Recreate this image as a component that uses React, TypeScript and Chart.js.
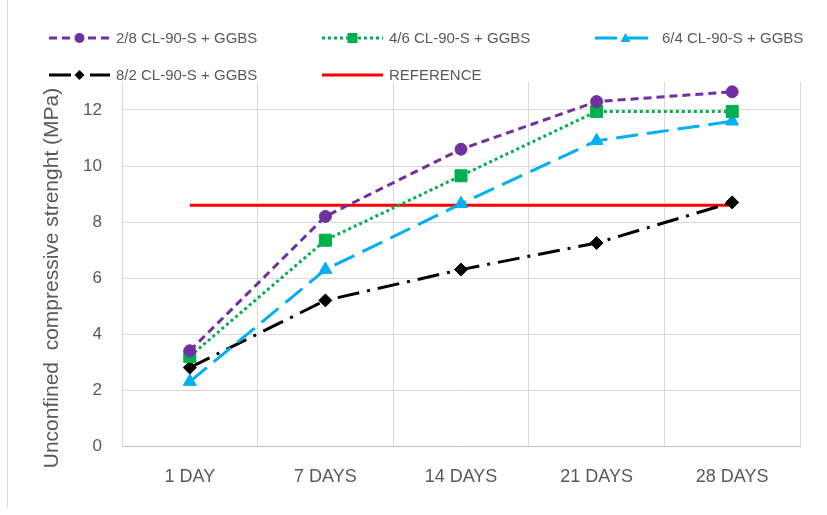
import { useEffect, useRef } from 'react';
import { Chart, registerables } from 'chart.js';

Chart.register(...registerables);

const categories = ['1 DAY', '7 DAYS', '14 DAYS', '21 DAYS', '28 DAYS'];
const mix28 = [3.4, 8.2, 10.6, 12.3, 12.65];
const mix46 = [3.2, 7.35, 9.65, 11.95, 11.95];
const mix64 = [2.3, 6.3, 8.65, 10.9, 11.6];
const mix82 = [2.8, 5.2, 6.3, 7.25, 8.7];
const reference = [8.6, 8.6, 8.6, 8.6, 8.6];
const seriesLabels = [
  '2/8 CL-90-S + GGBS',
  '4/6 CL-90-S + GGBS',
  '6/4 CL-90-S + GGBS',
  '8/2 CL-90-S + GGBS',
  'REFERENCE',
];
const yTitle = 'Unconfined  compressive strenght (MPa)';
const yTickValues = [0, 2, 4, 6, 8, 10, 12];
const yMax = 13;

const FONT = '"Liberation Sans", Arial, sans-serif';
const TEXT = '#595959';
const GRID = '#D9D9D9';

const legendSlots = [
  { x: 49, y: 38 },
  { x: 322, y: 38 },
  { x: 595, y: 38 },
  { x: 49, y: 75 },
  { x: 322, y: 75 },
];

function drawMarker(ctx: CanvasRenderingContext2D, style: string, x: number, y: number, r: number, color: string) {
  ctx.save();
  ctx.fillStyle = color;
  ctx.strokeStyle = color;
  ctx.setLineDash([]);
  ctx.beginPath();
  if (style === 'circle') {
    ctx.arc(x, y, r, 0, Math.PI * 2);
  } else if (style === 'rect') {
    ctx.rect(x - r, y - r, 2 * r, 2 * r);
  } else if (style === 'triangle') {
    ctx.moveTo(x, y - r);
    ctx.lineTo(x + r, y + r * 0.8);
    ctx.lineTo(x - r, y + r * 0.8);
    ctx.closePath();
  } else if (style === 'rectRot') {
    ctx.moveTo(x, y - r);
    ctx.lineTo(x + r, y);
    ctx.lineTo(x, y + r);
    ctx.lineTo(x - r, y);
    ctx.closePath();
  }
  ctx.fill();
  ctx.restore();
}

const customDecor = {
  id: 'customDecor',
  afterDraw(chart: any) {
    const ctx: CanvasRenderingContext2D = chart.ctx;
    // frame line on left
    ctx.save();
    ctx.strokeStyle = GRID;
    ctx.lineWidth = 1;
    ctx.beginPath();
    ctx.moveTo(7.5, 0);
    ctx.lineTo(7.5, 508);
    ctx.stroke();
    ctx.restore();

    // legend
    chart.data.datasets.forEach((ds: any, i: number) => {
      const s = legendSlots[i];
      if (!s) return;
      const len = 61;
      ctx.save();
      ctx.strokeStyle = ds.borderColor;
      ctx.lineWidth = ds.borderWidth;
      ctx.setLineDash(ds.borderDash || []);
      ctx.beginPath();
      ctx.moveTo(s.x, s.y);
      ctx.lineTo(s.x + len, s.y);
      ctx.stroke();
      ctx.restore();
      if (ds.pointRadius > 0) {
        drawMarker(ctx, ds.pointStyle, s.x + len / 2, s.y, 5, ds.pointBackgroundColor);
      }
      ctx.save();
      ctx.fillStyle = TEXT;
      ctx.font = `15px ${FONT}`;
      ctx.textAlign = 'left';
      ctx.textBaseline = 'middle';
      ctx.fillText(ds.label, s.x + 67, s.y + 1);
      ctx.restore();
    });

    // y axis title
    ctx.save();
    ctx.translate(52, 278);
    ctx.rotate(-Math.PI / 2);
    ctx.fillStyle = TEXT;
    ctx.font = `21px ${FONT}`;
    ctx.textAlign = 'center';
    ctx.textBaseline = 'middle';
    ctx.fillText(yTitle, 0, 0);
    ctx.restore();
  },
};

export default function App() {
  const ref = useRef<HTMLCanvasElement | null>(null);

  useEffect(() => {
    if (!ref.current) return;
    const chart = new Chart(ref.current, {
      type: 'line',
      data: {
        labels: categories,
        datasets: [
          {
            label: seriesLabels[0],
            data: mix28,
            borderColor: '#7030A0',
            backgroundColor: '#7030A0',
            borderWidth: 3,
            borderDash: [8, 5],
            pointStyle: 'circle',
            pointRadius: 6,
            pointBackgroundColor: '#7030A0',
            pointBorderColor: '#7030A0',
            pointBorderWidth: 1,
            tension: 0,
          },
          {
            label: seriesLabels[1],
            data: mix46,
            borderColor: '#00B050',
            backgroundColor: '#00B050',
            borderWidth: 3,
            borderDash: [3, 3],
            pointStyle: 'rect',
            pointRadius: 8.5,
            pointBackgroundColor: '#00B050',
            pointBorderColor: '#00B050',
            pointBorderWidth: 1,
            tension: 0,
          },
          {
            label: seriesLabels[2],
            data: mix64,
            borderColor: '#00B0F0',
            backgroundColor: '#00B0F0',
            borderWidth: 3,
            borderDash: [22, 9],
            pointStyle: 'triangle',
            pointRadius: 7.5,
            pointBackgroundColor: '#00B0F0',
            pointBorderColor: '#00B0F0',
            pointBorderWidth: 1,
            tension: 0,
          },
          {
            label: seriesLabels[3],
            data: mix82,
            borderColor: '#000000',
            backgroundColor: '#000000',
            borderWidth: 3,
            borderDash: [22, 8, 3, 8],
            pointStyle: 'rectRot',
            pointRadius: 6.5,
            pointBackgroundColor: '#000000',
            pointBorderColor: '#000000',
            pointBorderWidth: 1,
            tension: 0,
          },
          {
            label: seriesLabels[4],
            data: reference,
            borderColor: '#FF0000',
            backgroundColor: '#FF0000',
            borderWidth: 3,
            pointRadius: 0,
            pointStyle: 'circle',
            pointBackgroundColor: '#FF0000',
            tension: 0,
          },
        ],
      },
      options: {
        responsive: false,
        animation: false,
        events: [],
        layout: { padding: { top: 82, right: 27, left: 0, bottom: 0 } },
        plugins: {
          legend: { display: false },
          tooltip: { enabled: false },
          title: { display: false },
        },
        scales: {
          x: {
            type: 'category',
            offset: true,
            grid: { offset: true, color: GRID, lineWidth: 1, drawTicks: false },
            border: { color: '#BFBFBF', width: 1 },
            ticks: { color: TEXT, font: { family: FONT, size: 18 }, padding: 20, maxRotation: 0 },
            afterFit: (s: any) => {
              s.height = 515 - 446;
            },
          },
          y: {
            type: 'linear',
            min: 0,
            max: yMax,
            afterBuildTicks: (s: any) => {
              s.ticks = yTickValues.map((v) => ({ value: v }));
            },
            grid: { color: GRID, lineWidth: 1, drawTicks: false },
            border: { color: GRID, width: 1 },
            ticks: { color: TEXT, font: { family: FONT, size: 17 }, padding: 20 },
            afterFit: (s: any) => {
              s.width = 122;
            },
          },
        },
      },
      plugins: [customDecor],
    });
    return () => chart.destroy();
  }, []);

  return (
    <div style={{ position: 'absolute', left: 0, top: 0, width: 827, height: 515, background: '#fff' }}>
      <canvas ref={ref} width={827} height={515} style={{ display: 'block' }} />
    </div>
  );
}
